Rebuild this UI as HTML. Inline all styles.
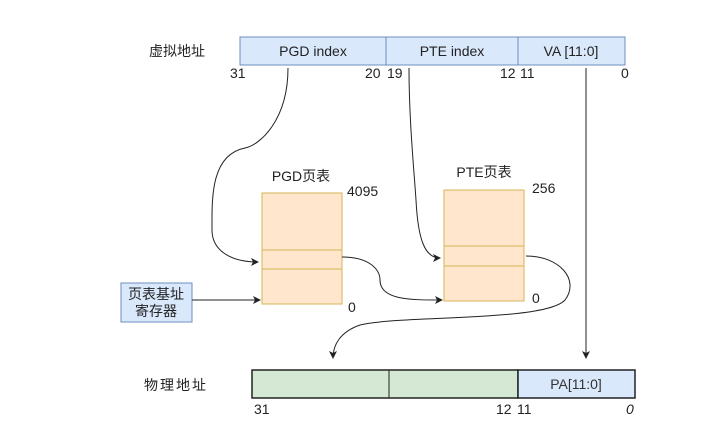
<!DOCTYPE html>
<html><head><meta charset="utf-8"><style>
body{margin:0;background:#fff}
svg{display:block;font-family:"Liberation Sans","Noto Sans CJK SC",sans-serif}
</style></head><body>
<svg width="720" height="430" viewBox="0 0 720 430">
<defs><marker id="a" markerWidth="8" markerHeight="8" refX="7" refY="4" orient="auto" markerUnits="userSpaceOnUse"><path d="M0,0 L8,4 L0,8 L2,4 Z" fill="#222"/></marker></defs>
<text x="177" y="56" font-size="14" text-anchor="middle" fill="#222">虚拟地址</text>
<rect x="240" y="37" width="385" height="28" fill="#dae8fc" stroke="#6c8ebf"/>
<line x1="386" y1="37" x2="386" y2="65" stroke="#6c8ebf"/>
<line x1="518" y1="37" x2="518" y2="65" stroke="#6c8ebf"/>
<g font-size="14" fill="#222" text-anchor="middle">
<text x="313" y="56">PGD index</text><text x="452" y="56">PTE index</text><text x="571" y="56">VA [11:0]</text>
</g>
<g font-size="14" fill="#222">
<text x="230" y="78">31</text><text x="365" y="78">20</text><text x="387" y="78">19</text><text x="500" y="78">12</text><text x="520" y="78">11</text><text x="621" y="78">0</text>
</g>
<path d="M288,68 C288,120 260,145 245,148 C210,155 212,200 212,230 C212,250 230,262 258,262" fill="none" stroke="#222" marker-end="url(#a)"/>
<path d="M409,68 C409,120 414,170 416,200 C418,240 425,258 440,258" fill="none" stroke="#222" marker-end="url(#a)"/>
<line x1="586" y1="68" x2="586" y2="358" stroke="#222" marker-end="url(#a)"/>
<text x="301" y="181" font-size="14" text-anchor="middle" fill="#222">PGD页表</text>
<rect x="262" y="193" width="80" height="111" fill="#ffe6cc" stroke="#d6b656"/>
<line x1="262" y1="250" x2="342" y2="250" stroke="#d6b656"/><line x1="262" y1="269" x2="342" y2="269" stroke="#d6b656"/>
<text x="347" y="196" font-size="14" fill="#222">4095</text>
<text x="348" y="312" font-size="14" fill="#222">0</text>
<text x="484" y="177" font-size="14" text-anchor="middle" fill="#222">PTE页表</text>
<rect x="444" y="190" width="80" height="111" fill="#ffe6cc" stroke="#d6b656"/>
<line x1="444" y1="246" x2="524" y2="246" stroke="#d6b656"/><line x1="444" y1="266" x2="524" y2="266" stroke="#d6b656"/>
<text x="532" y="193" font-size="14" fill="#222">256</text>
<text x="532" y="303" font-size="14" fill="#222">0</text>
<rect x="121" y="283" width="71" height="39" fill="#dae8fc" stroke="#6c8ebf"/>
<text x="156" y="299" font-size="14" text-anchor="middle" fill="#222">页表基址</text>
<text x="156" y="316" font-size="14" text-anchor="middle" fill="#222">寄存器</text>
<line x1="192" y1="300" x2="260" y2="300" stroke="#222" marker-end="url(#a)"/>
<path d="M342,257 C370,257 380,270 380,280 C380,300 410,300 442,300" fill="none" stroke="#222" marker-end="url(#a)"/>
<path d="M526,256 C560,256 580,280 565,300 C545,322 400,315 360,325 C340,332 333,345 333,358" fill="none" stroke="#222" marker-end="url(#a)"/>
<text x="176" y="390" font-size="14" text-anchor="middle" fill="#222" letter-spacing="2">物理地址</text>
<rect x="252" y="370" width="266" height="28" fill="#d5e8d4" stroke="#222" stroke-width="1.5"/>
<line x1="389" y1="370" x2="389" y2="398" stroke="#222"/>
<rect x="518" y="370" width="117" height="28" fill="#dae8fc" stroke="#222" stroke-width="1.5"/>
<text x="576" y="389" font-size="14" text-anchor="middle" fill="#333">PA[11:0]</text>
<g font-size="14" fill="#222">
<text x="254" y="414">31</text><text x="496" y="414">12</text><text x="517" y="414">11</text><text x="626" y="414" font-style="italic">0</text>
</g>
</svg>
</body></html>
